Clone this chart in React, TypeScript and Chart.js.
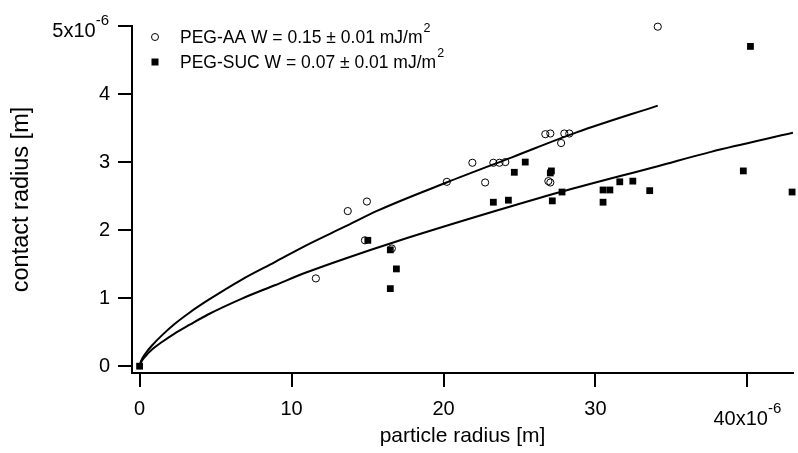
import React, { useEffect, useRef } from "react";
import { Chart, registerables } from "chart.js";

Chart.register(...registerables);

// ---- Data (units: 1e-6 m) ----
const AA_X = [11.6, 13.7, 14.96, 14.83, 16.6, 20.22, 21.9, 22.74, 23.28, 23.68, 24.07, 26.7, 27.03, 27.95, 28.28, 27.74, 26.9, 27.03, 34.1];
const AA_Y = [1.29, 2.28, 2.42, 1.85, 1.73, 2.71, 2.99, 2.7, 2.99, 2.99, 3.0, 3.41, 3.42, 3.42, 3.42, 3.28, 2.72, 2.7, 4.99];

const SUC_X = [0, 15.02, 16.5, 16.9, 16.5, 23.28, 24.27, 24.66, 25.38, 27.1, 27.03, 27.16, 27.8, 30.5, 30.95, 30.5, 31.6, 32.46, 33.57, 39.73, 40.2, 42.94];
const SUC_Y = [0, 1.85, 1.71, 1.43, 1.14, 2.41, 2.44, 2.85, 3.0, 2.87, 2.84, 2.43, 2.56, 2.59, 2.59, 2.41, 2.71, 2.72, 2.58, 2.87, 4.7, 2.56];

const FIT_AA_X = [0, 0.1, 0.4, 0.8, 1.5, 2.3, 3.3, 4.5, 6.7, 8.9, 11, 13.5, 15.7, 20.2, 24.5, 28.8, 34.1];
const FIT_AA_Y = [0, 0.08, 0.19, 0.3, 0.46, 0.62, 0.79, 0.97, 1.27, 1.53, 1.78, 2.05, 2.29, 2.7, 3.07, 3.44, 3.83];

const FIT_SUC_X = [0, 0.1, 0.4, 0.8, 1.5, 2.3, 3.3, 4.5, 6.7, 8.9, 11, 13.5, 17, 23.4, 27.7, 34.1, 37.6, 43];
const FIT_SUC_Y = [0, 0.06, 0.15, 0.24, 0.36, 0.48, 0.61, 0.76, 0.99, 1.19, 1.38, 1.58, 1.84, 2.28, 2.56, 2.94, 3.15, 3.43];

const X_TICKS = [0, 10, 20, 30, 40];
const Y_TICKS = [0, 1, 2, 3, 4, 5];
const X_EXP_TICK = 40;
const Y_EXP_TICK = 5;
const EXP_BASE = "x10";
const EXP_POWER = "-6";

const LEGEND_LABELS = ["PEG-AA W = 0.15 ± 0.01 mJ/m", "PEG-SUC W = 0.07 ± 0.01 mJ/m"];
const LEGEND_SUP = "2";
const X_TITLE = "particle radius [m]";
const Y_TITLE = "contact radius [m]";

const FAMILY = '"Liberation Sans", Arial, Helvetica, sans-serif';

const toPoints = (xs: number[], ys: number[]) => xs.map((x, i) => ({ x, y: ys[i] }));

const overlayPlugin = {
  id: "overlayTexts",
  afterDraw(chart: any) {
    const ctx = chart.ctx as CanvasRenderingContext2D;
    const xs = chart.scales.x;
    const ys = chart.scales.y;
    ctx.save();
    ctx.fillStyle = "#000";
    ctx.textBaseline = "alphabetic";
    ctx.textAlign = "left";

    const mainFont = `20px ${FAMILY}`;
    const supFont = `15px ${FAMILY}`;

    // x-axis exponent label, centered on its tick
    {
      const main = String(X_EXP_TICK) + EXP_BASE;
      ctx.font = mainFont;
      const wm = ctx.measureText(main).width;
      ctx.font = supFont;
      const ws = ctx.measureText(EXP_POWER).width;
      const cx = xs.getPixelForValue(X_EXP_TICK);
      const x0 = cx - (wm + ws) / 2;
      ctx.font = mainFont;
      ctx.fillText(main, x0, 425);
      ctx.font = supFont;
      ctx.fillText(EXP_POWER, x0 + wm, 413);
    }
    // y-axis exponent label, right aligned, centered on its tick
    {
      const main = String(Y_EXP_TICK) + EXP_BASE;
      ctx.font = mainFont;
      const wm = ctx.measureText(main).width;
      ctx.font = supFont;
      const ws = ctx.measureText(EXP_POWER).width;
      const cy = ys.getPixelForValue(Y_EXP_TICK);
      const right = 109;
      ctx.font = mainFont;
      ctx.fillText(main, right - ws - wm, cy + 11);
      ctx.font = supFont;
      ctx.fillText(EXP_POWER, right - ws, cy - 1.5);
    }
    // legend
    {
      const legFont = `17.5px ${FAMILY}`;
      const legSup = `12.5px ${FAMILY}`;
      const rows = [43, 68];
      LEGEND_LABELS.forEach((label, i) => {
        const base = rows[i];
        const my = base - 6;
        ctx.lineWidth = 1;
        ctx.strokeStyle = "#000";
        if (i === 0) {
          ctx.beginPath();
          ctx.arc(155, my, 3.5, 0, Math.PI * 2);
          ctx.stroke();
        } else {
          ctx.fillRect(151.5, my - 3.5, 7, 7);
        }
        ctx.font = legFont;
        ctx.fillText(label, 180, base);
        const w = ctx.measureText(label).width;
        ctx.font = legSup;
        ctx.fillText(LEGEND_SUP, 180 + w + 1, base - 11);
      });
    }
    ctx.restore();
  },
};

export default function App() {
  const ref = useRef<HTMLCanvasElement | null>(null);

  useEffect(() => {
    document.body.style.margin = "0";
    if (!ref.current) return;
    Chart.defaults.font.family = FAMILY;
    Chart.defaults.color = "#000";

    const chart = new Chart(ref.current, {
      type: "scatter",
      data: {
        datasets: [
          {
            label: "PEG-AA",
            data: toPoints(AA_X, AA_Y),
            pointStyle: "circle",
            pointRadius: 3.6,
            pointBorderWidth: 1,
            pointBorderColor: "#000",
            pointBackgroundColor: "rgba(255,255,255,0)",
            showLine: false,
            clip: false,
          },
          {
            label: "PEG-SUC",
            data: toPoints(SUC_X, SUC_Y),
            pointStyle: "rect",
            pointRadius: 4.8,
            pointBorderWidth: 0,
            pointBackgroundColor: "#000",
            pointBorderColor: "#000",
            showLine: false,
            clip: false,
          },
          {
            label: "fit AA",
            data: toPoints(FIT_AA_X, FIT_AA_Y),
            showLine: true,
            pointRadius: 0,
            borderColor: "#000",
            borderWidth: 2,
            cubicInterpolationMode: "monotone",
          },
          {
            label: "fit SUC",
            data: toPoints(FIT_SUC_X, FIT_SUC_Y),
            showLine: true,
            pointRadius: 0,
            borderColor: "#000",
            borderWidth: 2,
            cubicInterpolationMode: "monotone",
          },
        ],
      },
      options: {
        responsive: false,
        animation: false,
        events: [],
        layout: { padding: { top: 26, left: 0, right: 0, bottom: 0 } },
        plugins: {
          legend: { display: false },
          tooltip: { enabled: false },
          title: { display: false },
        },
        scales: {
          x: {
            type: "linear",
            min: -0.5,
            max: 43.0,
            afterBuildTicks: (s: any) => {
              s.ticks = X_TICKS.map((v) => ({ value: v }));
            },
            afterFit: (s: any) => {
              s.height = 80;
            },
            ticks: {
              autoSkip: false,
              maxRotation: 0,
              padding: 10,
              font: { size: 20 },
              color: "#000",
              callback: (v: any) => (Number(v) === X_EXP_TICK ? "" : String(v)),
            },
            grid: {
              drawOnChartArea: false,
              drawTicks: true,
              tickLength: 14,
              color: "#000",
              lineWidth: 2,
            },
            border: { display: true, color: "#000", width: 2 },
            title: {
              display: true,
              text: X_TITLE,
              color: "#000",
              font: { size: 21, lineHeight: 1.2 },
            },
          },
          y: {
            type: "linear",
            min: -0.1,
            max: 5,
            afterBuildTicks: (s: any) => {
              s.ticks = Y_TICKS.map((v) => ({ value: v }));
            },
            afterFit: (s: any) => {
              s.width = 132;
            },
            ticks: {
              padding: 8,
              font: { size: 20 },
              color: "#000",
              callback: (v: any) => (Number(v) === Y_EXP_TICK ? "" : String(v)),
            },
            grid: {
              drawOnChartArea: false,
              drawTicks: true,
              tickLength: 14,
              color: "#000",
              lineWidth: 2,
            },
            border: { display: true, color: "#000", width: 2 },
            title: {
              display: true,
              text: Y_TITLE,
              color: "#000",
              font: { size: 23.5, lineHeight: 1.5 },
            },
          },
        },
      },
      plugins: [overlayPlugin],
    } as any);

    return () => chart.destroy();
  }, []);

  return (
    <div style={{ width: 798, height: 453, background: "#fff" }}>
      <canvas ref={ref} width={798} height={453} style={{ display: "block" }} />
    </div>
  );
}
